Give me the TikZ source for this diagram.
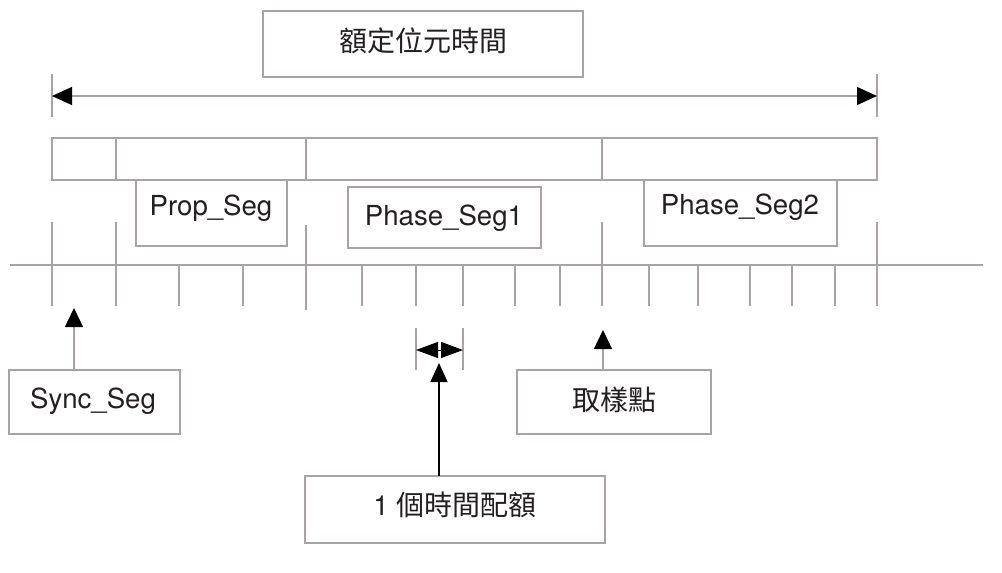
\documentclass[tikz,border=0pt]{standalone}
\usepackage{fontspec}
\setmainfont{TeX Gyre Heros}
\newfontfamily\cjk{Noto Sans CJK TC}
\usetikzlibrary{arrows.meta}
\definecolor{lg}{RGB}{170,163,163}
\definecolor{txt}{RGB}{35,31,32}
\begin{document}
\begin{tikzpicture}[x=1pt,y=-1pt,
  ln/.style={draw=lg,line width=1.4pt},
  box/.style={ln,rectangle,inner sep=0pt,outer sep=0pt},
  lbl/.style={inner sep=0pt,anchor=base,text=txt,font=\fontsize{27.6}{30}\selectfont},
  clbl/.style={inner sep=0pt,anchor=base,text=txt,font=\fontsize{28}{30}\selectfont\cjk},
  uptip/.style={-{Triangle[length=19pt,width=18pt,color=black]}},
]
\useasboundingbox (0,0) rectangle (1002,573);

% title box and dimension arrow
\node[box,minimum width=320pt,minimum height=66pt] (title) at (423,44) {};
\node[clbl] (titleT) at (423,51) {額定位元時間};
\draw[ln] (52,74) -- (52,117);
\draw[ln] (877,74) -- (877,117);
\coordinate (dimL) at (52,96);
\coordinate (dimR) at (877,96);
\draw[ln,{Triangle[length=20pt,width=18pt,color=black]}-{Triangle[length=20pt,width=18pt,color=black]}] (dimL) -- (dimR);

% segment bar
\draw[ln] (52,138) rectangle (877,180);
\foreach \x in {116,306,602} \draw[ln] (\x,138) -- (\x,180);

% segment label boxes
\node[box,minimum width=151pt,minimum height=66pt] (prop) at (211.5,213) {};
\node[lbl] (propT) at (211,215) {Prop\_Seg};
\node[box,minimum width=193pt,minimum height=61pt] (ph1) at (444.5,217.5) {};
\node[lbl] (ph1T) at (444,225) {Phase\_Seg1};
\node[box,minimum width=193pt,minimum height=66pt] (ph2) at (740.5,213) {};
\node[lbl] (ph2T) at (740,214) {Phase\_Seg2};

% time line
\draw[ln] (10,265) -- (983,265);
\foreach \x in {52,116,602,877} \draw[ln] (\x,222) -- (\x,306);
\draw[ln] (306,225) -- (306,310);
\foreach \x in {179,243,362,416,463,515,560,649,698,750,792,835} \draw[ln] (\x,265) -- (\x,306);

% Sync_Seg
\node[box,minimum width=171pt,minimum height=64pt] (sync) at (94.5,402) {};
\node[lbl] (syncT) at (93,408) {Sync\_Seg};
\coordinate (syncTip) at (74,308);
\draw[ln,uptip] (sync.north -| syncTip) -- (syncTip);

% sample point
\node[box,minimum width=194pt,minimum height=64pt] (smp) at (614,402) {};
\node[clbl] (smpT) at (614,410) {取樣點};
\coordinate (smpTip) at (603,330);
\draw[ln,uptip] (smp.north -| smpTip) -- (smpTip);

% time quantum
\draw[ln] (416,328) -- (416,370);
\draw[ln] (463,328) -- (463,370);
\coordinate (tqL) at (416,350);
\coordinate (tqR) at (463,350);
\draw[black,line width=1pt,{Triangle[length=22pt,width=16pt]}-{Triangle[length=22pt,width=16pt]}] (tqL) -- (tqR);
\node[box,minimum width=300pt,minimum height=67pt] (tq) at (455,509.5) {};
\node[inner sep=0pt,anchor=base,text=txt] (tqT) at (455,515) {\fontsize{27.6}{30}\selectfont 1 {\fontsize{28}{30}\selectfont\cjk 個時間配額}};
\coordinate (tqTip) at (439,363);
\draw[black,line width=1.4pt,-{Triangle[length=19pt,width=17pt]}] (tq.north -| tqTip) -- (tqTip);
\end{tikzpicture}
\end{document}
